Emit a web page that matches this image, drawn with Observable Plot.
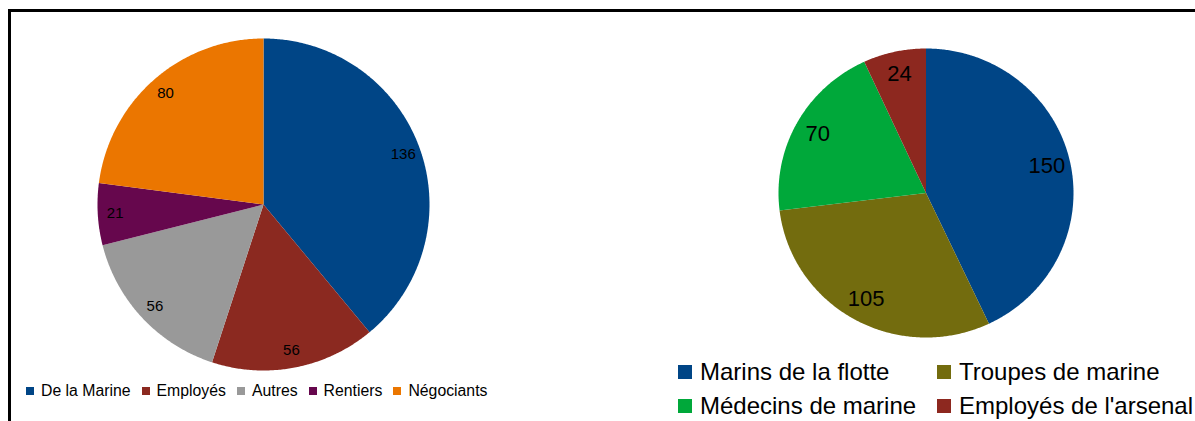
<!DOCTYPE html>
<html>
<head>
<meta charset="utf-8">
<script src="https://cdn.jsdelivr.net/npm/d3@7"></script>
<script src="https://cdn.jsdelivr.net/npm/@observablehq/plot@0.6"></script>
<style>
  html, body { margin: 0; padding: 0; background: #fff; width: 1195px; height: 421px; overflow: hidden; }
  body { position: relative; font-family: "Liberation Sans", Arial, sans-serif; }
  #frame { position: absolute; left: 8px; top: 9px; width: 1200px; height: 430px;
           border-top: 3px solid #000; border-left: 3px solid #000; box-sizing: border-box; }
  .pie { position: absolute; }
  .pie svg { overflow: visible; background: transparent; }
  #legL { position: absolute; left: 26px; top: 382px; display: flex; align-items: center;
          font-size: 15.8px; color: #000; white-space: nowrap; }
  #legL .item { display: flex; align-items: center; margin-right: 11px; }
  #legL .sw { width: 8px; height: 8px; margin-right: 7px; }
  #legR { position: absolute; left: 678px; top: 357px; display: grid;
          grid-template-columns: 259px auto; row-gap: 5px;
          font-size: 24px; color: #000; white-space: nowrap; line-height: 29px; }
  #legR .item { display: flex; align-items: center; }
  #legR .sw { width: 14px; height: 14px; margin-right: 8px; }
</style>
</head>
<body>
<div id="frame"></div>
<div id="pieL" class="pie" style="left:97px; top:38px;"></div>
<div id="pieR" class="pie" style="left:778px; top:48px;"></div>
<div id="legL"></div>
<div id="legR"></div>
<script>
// ---- data ----
const leftCategories = ["De la Marine", "Employés", "Autres", "Rentiers", "Négociants"];
const leftValues = [136, 56, 56, 21, 80];
const leftColors = ["#004586", "#8b2920", "#999999", "#66074d", "#eb7600"];

const rightCategories = ["Marins de la flotte", "Troupes de marine", "Médecins de marine", "Employés de l'arsenal"];
const rightValues = [150, 105, 70, 24];
const rightColors = ["#004586", "#736c0e", "#00a83a", "#8d281f"];

function pieChart(cats, vals, colors, opts) {
  const data = cats.map((c, i) => ({cat: c, value: vals[i]}));
  const arcs = d3.pie().sort(null).value(d => d.value)(data);
  const pts = [];
  for (const a of arcs) {
    pts.push({cat: a.data.cat, x: 0, y: 0});
    const n = Math.max(2, Math.ceil((a.endAngle - a.startAngle) / (Math.PI / 360)));
    for (let k = 0; k <= n; k++) {
      const t = a.startAngle + (a.endAngle - a.startAngle) * k / n;
      pts.push({cat: a.data.cat, x: Math.sin(t), y: Math.cos(t)});
    }
  }
  const labels = arcs.map(a => {
    const m = (a.startAngle + a.endAngle) / 2;
    return {cat: a.data.cat, value: a.data.value, x: opts.lr * Math.sin(m), y: opts.lr * Math.cos(m)};
  });
  return Plot.plot({
    width: opts.width,
    height: opts.height,
    margin: 0,
    x: {domain: [-1, 1], axis: null},
    y: {domain: [-1, 1], axis: null},
    color: {domain: cats, range: colors},
    style: {overflow: "visible", background: "transparent"},
    marks: [
      Plot.line(pts, {x: "x", y: "y", z: "cat", fill: "cat", stroke: "none", curve: "linear-closed"}),
      Plot.text(labels, {x: "x", y: "y", text: d => String(d.value), fontSize: opts.fs,
        fill: "#000", fontFamily: "Liberation Sans, Arial, sans-serif", textAnchor: "middle"})
    ]
  });
}

document.getElementById("pieL").appendChild(
  pieChart(leftCategories, leftValues, leftColors, {width: 332, height: 332, lr: 0.895, fs: 15}));
document.getElementById("pieR").appendChild(
  pieChart(rightCategories, rightValues, rightColors, {width: 295, height: 289, lr: 0.84, fs: 22}));

function legend(id, cats, colors) {
  const el = document.getElementById(id);
  cats.forEach((c, i) => {
    const it = document.createElement("div");
    it.className = "item";
    const sw = document.createElement("div");
    sw.className = "sw";
    sw.style.background = colors[i];
    const tx = document.createElement("span");
    tx.textContent = c;
    it.appendChild(sw); it.appendChild(tx);
    el.appendChild(it);
  });
}
legend("legL", leftCategories, leftColors);
legend("legR", rightCategories, rightColors);
</script>
</body>
</html>
